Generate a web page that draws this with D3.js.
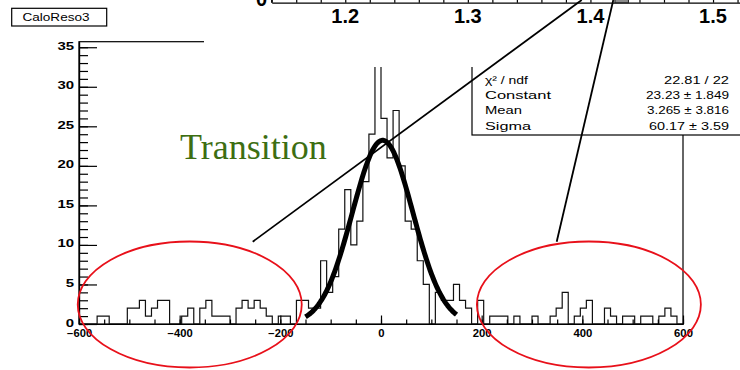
<!DOCTYPE html>
<html>
<head>
<meta charset="utf-8">
<script src="https://cdn.jsdelivr.net/npm/d3@7"></script>
<style>
body { margin: 0; background: #fff; }
text { font-family: "Liberation Sans", Arial, sans-serif; }
text.note { font-family: "Liberation Serif", "Times New Roman", serif; }
</style>
</head>
<body>
<div id="body"></div>
<script>
// CaloReso3 histogram: 100 bins between -600 and 600
var xRange = [-600, 600];
var counts = [
  0, 0, 0, 1, 1, 0, 0, 0, 2, 2,
  3, 1, 2, 3, 3, 0, 0, 1, 2, 0,
  2, 3, 1, 1, 1, 0, 2, 3, 2, 3,
  2, 1, 0, 1, 1, 0, 3, 3, 2, 2,
  8, 4, 6, 12, 17, 10, 13, 18, 24, 34,
  26, 21, 27, 20, 13, 12, 8, 5, 0, 4,
  3, 3, 5, 3, 2, 0, 3, 0, 1, 1,
  1, 0, 1, 0, 0, 1, 0, 0, 1, 2,
  4, 0, 1, 2, 3, 0, 0, 2, 1, 0,
  1, 1, 0, 1, 1, 0, 1, 2, 1, 0
];
var xLabels = [-600, -400, -200, 0, 200, 400, 600];
var yLabels = [0, 5, 10, 15, 20, 25, 30, 35];

// gaussian fit
var fitRange = [-150, 150];
var fitConstant = 23.23, fitMean = 3.265, fitSigma = 60.17;
var statNames = ["\u03c7\u00b2 / ndf", "Constant", "Mean", "Sigma"];
var statValues = ["22.81 / 22", "23.23 \u00b1 1.849", "3.265 \u00b1 3.816", "60.17 \u00b1 3.59"];

// pasted strip of the other plot (its x axis)
var stripLabels = [1.2, 1.3, 1.4, 1.5];
var stripMarker = [1.42, 1.431];

var title = "CaloReso3";
var note = "Transition";

var width = 740, height = 370;

var svg = d3.select("#body")
  .append("svg")
  .attr("width", width)
  .attr("height", height)
  .style("display", "block");

svg.append("rect").attr("width", width).attr("height", height).attr("fill", "#fff");

var x = d3.scaleLinear().domain(xRange).range([79, 683]);
var yMax = d3.max(counts) * 1.05;
var y = d3.scaleLinear().domain([0, yMax]).range([324, 41.7]);

var binW = (xRange[1] - xRange[0]) / counts.length;

// frame
svg.append("rect")
  .attr("x", x(xRange[0])).attr("y", y(yMax))
  .attr("width", x(xRange[1]) - x(xRange[0]))
  .attr("height", y(0) - y(yMax))
  .attr("fill", "none").attr("stroke", "#000").attr("stroke-width", 1.2);

// histogram outline
var pts = [[xRange[0], 0]];
counts.forEach(function(c, i) {
  pts.push([xRange[0] + i * binW, c]);
  pts.push([xRange[0] + (i + 1) * binW, c]);
});
pts.push([xRange[1], 0]);

var line = d3.line()
  .x(function(d) { return x(d[0]); })
  .y(function(d) { return y(d[1]); });

svg.append("path")
  .attr("d", line(pts))
  .attr("fill", "none")
  .attr("stroke", "#111")
  .attr("stroke-width", 1.2);

// fit curve
var fitPts = d3.range(fitRange[0], fitRange[1] + 0.1, 2).map(function(v) {
  var z = (v - fitMean) / fitSigma;
  return [v, fitConstant * Math.exp(-0.5 * z * z)];
});
svg.append("path")
  .attr("d", line(fitPts))
  .attr("fill", "none")
  .attr("stroke", "#000")
  .attr("stroke-width", 5)
  .attr("stroke-linejoin", "round");

// axes
var yMinor = svg.append("g")
  .attr("transform", "translate(" + x(xRange[0]) + ",0)")
  .call(d3.axisLeft(y).tickValues(d3.range(0, 36, 1)).tickSize(-9).tickSizeOuter(0).tickFormat(""));
var yAxis = svg.append("g")
  .attr("transform", "translate(" + x(xRange[0]) + ",0)")
  .call(d3.axisLeft(y).tickValues(yLabels).tickSize(-18).tickSizeOuter(0).tickPadding(5));

var xMinor = svg.append("g")
  .attr("transform", "translate(0," + y(0) + ")")
  .call(d3.axisBottom(x).tickValues(d3.range(-600, 601, 50)).tickSize(-4.5).tickSizeOuter(0).tickFormat(""));
var xAxis = svg.append("g")
  .attr("transform", "translate(0," + y(0) + ")")
  .call(d3.axisBottom(x).tickValues(xLabels).tickSize(-8.5).tickSizeOuter(0).tickPadding(6));

[yMinor, yAxis, xMinor, xAxis].forEach(function(g) {
  g.selectAll("path, line").attr("stroke", "#000").attr("stroke-width", 1.2);
});
yAxis.selectAll("text")
  .attr("font-size", 10).attr("font-weight", "bold").attr("fill", "#000")
  .attr("dy", "0.2em")
  .attr("lengthAdjust", "spacingAndGlyphs")
  .attr("textLength", function(d) { return String(d).length * 8.3; });
xAxis.selectAll("text")
  .attr("font-size", 10).attr("font-weight", "bold").attr("fill", "#000")
  .attr("lengthAdjust", "spacingAndGlyphs")
  .attr("textLength", function(d) { return String(d).length * 6.3; });

// stats box
svg.append("rect")
  .attr("x", 472).attr("y", 40).attr("width", 300).attr("height", 95)
  .attr("fill", "#fff").attr("stroke", "#000").attr("stroke-width", 1.2);

var nameLen = [43, 66, 37, 46];
var valLen = [65, 83, 82, 80];
var stats = svg.append("g").attr("font-size", 11).attr("fill", "#000");
statNames.forEach(function(s, i) {
  var ty = 84 + i * 15.2;
  stats.append("text").attr("x", 485).attr("y", ty).text(s)
    .attr("textLength", nameLen[i]).attr("lengthAdjust", "spacingAndGlyphs");
  stats.append("text").attr("x", 729).attr("y", ty).attr("text-anchor", "end").text(statValues[i])
    .attr("textLength", valLen[i]).attr("lengthAdjust", "spacingAndGlyphs");
});

// white pasted strip covering the top
svg.append("rect").attr("x", 204).attr("y", 0).attr("width", 540).attr("height", 67).attr("fill", "#fff");

var s = d3.scaleLinear().domain([1.14, 1.522]).range([271.7, 740]);
var strip = svg.append("g").attr("transform", "translate(0,2.7)");
strip.call(d3.axisTop(s).tickValues(d3.range(1.14, 1.53, 0.02)).tickSize(4).tickSizeOuter(0).tickFormat(""));
strip.selectAll("path, line").attr("stroke", "#000").attr("stroke-width", 1.2);
svg.append("line").attr("x1", 271.7).attr("x2", 271.7).attr("y1", 0).attr("y2", 2.7)
  .attr("stroke", "#000").attr("stroke-width", 1.2);
svg.append("rect")
  .attr("x", s(stripMarker[0])).attr("y", -1)
  .attr("width", s(stripMarker[1]) - s(stripMarker[0])).attr("height", 3.7)
  .attr("fill", "#8c8c8c").attr("stroke", "#222").attr("stroke-width", 1);
svg.append("text").attr("x", 267).attr("y", 6).attr("text-anchor", "end")
  .attr("font-size", 20).attr("font-weight", "bold").text("0");
svg.selectAll(".stripLabel")
  .data(stripLabels)
  .enter().append("text")
  .attr("x", function(d) { return s(d); })
  .attr("y", 23.3)
  .attr("text-anchor", "middle")
  .attr("font-size", 20).attr("font-weight", "bold")
  .text(function(d) { return d.toFixed(1); });

// title box
svg.append("rect").attr("x", 11.7).attr("y", 8.3).attr("width", 95).attr("height", 17.7)
  .attr("fill", "#fff").attr("stroke", "#000").attr("stroke-width", 1.2);
svg.append("text").attr("x", 22.5).attr("y", 21)
  .attr("font-size", 10.5)
  .attr("textLength", 67).attr("lengthAdjust", "spacingAndGlyphs")
  .text(title);

// annotation lines
svg.append("line").attr("x1", 252.7).attr("y1", 241.7).attr("x2", 581.7).attr("y2", 0)
  .attr("stroke", "#000").attr("stroke-width", 1.8);
svg.append("line").attr("x1", 556.7).attr("y1", 241.7).attr("x2", 613.3).attr("y2", 0)
  .attr("stroke", "#000").attr("stroke-width", 1.8);

// red ellipses round the tails
[-380, 413].forEach(function(cx) {
  svg.append("ellipse")
    .attr("cx", x(cx)).attr("cy", 304.5)
    .attr("rx", 112).attr("ry", 63)
    .attr("fill", "none").attr("stroke", "#e8101a").attr("stroke-width", 1.8);
});

svg.append("text")
  .attr("class", "note")
  .attr("x", 180).attr("y", 159.3)
  .attr("font-size", 36)
  .attr("fill", "#3d6e12")
  .text(note);
</script>
</body>
</html>
